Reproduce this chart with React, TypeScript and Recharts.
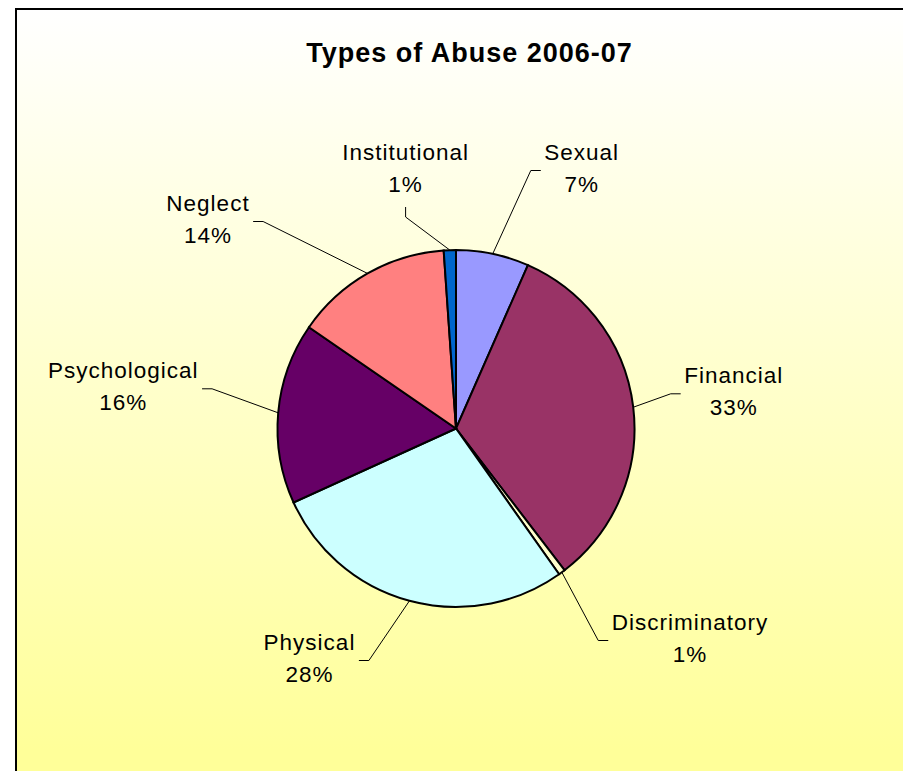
import React from 'react';
import { PieChart, Pie, Cell } from 'recharts';

const categories = ['Sexual', 'Financial', 'Discriminatory', 'Physical', 'Psychological', 'Neglect', 'Institutional'];
const values = [6.6, 33.0, 0.6, 28.0, 16.4, 14.3, 1.1];
const colors = ['#9999FF', '#993366', '#FFFFCC', '#CCFFFF', '#660066', '#FF8080', '#0066CC'];
const title = 'Types of Abuse 2006-07';

// label block placement: offset of the block centre (x) and first baseline (y) from the pie centre
const labelOffsets: [number, number][] = [
  [125.7, -268.5],
  [277.7, -45.2],
  [234, 201.5],
  [-146.5, 221.5],
  [-332.7, -50.2],
  [-248, -217.5],
  [-50.4, -268.5],
];

const data = categories.map((name, i) => ({ name, value: values[i] }));

const FONT = '"Liberation Sans", Arial, Helvetica, sans-serif';
const FS = 22.5;
const LS = 1;
const LINE_H = 32;

const CW: Record<string, number> = {
  I: 0.278, S: 0.667, F: 0.611, D: 0.722, P: 0.667, N: 0.722,
  a: 0.556, b: 0.556, c: 0.5, d: 0.556, e: 0.556, f: 0.278, g: 0.556, h: 0.556, i: 0.222,
  j: 0.222, k: 0.5, l: 0.222, m: 0.833, n: 0.556, o: 0.556, p: 0.556, q: 0.556, r: 0.333,
  s: 0.5, t: 0.278, u: 0.556, v: 0.5, w: 0.722, x: 0.5, y: 0.5, z: 0.5, '%': 0.889,
};

function textWidth(s: string) {
  let w = 0;
  for (const ch of s) w += CW[ch] ?? 0.556;
  return w * FS + (s.length - 1) * LS;
}

const renderLabel = (props: any) => {
  const { cx, cy, midAngle, outerRadius, percent, name, index } = props;
  const RAD = Math.PI / 180;
  const ex = cx + outerRadius * Math.cos(-midAngle * RAD);
  const ey = cy + outerRadius * Math.sin(-midAngle * RAD);
  const [ox, oy] = labelOffsets[index];
  const lx = cx + ox;
  const ly = cy + oy;
  const pct = `${Math.round(percent * 100)}%`;
  const w = Math.max(textWidth(name), textWidth(pct));
  let pts: number[][];
  if (Math.abs(lx - ex) < w / 2) {
    const sy = ly + LINE_H + 15;
    pts = [[ex, ey], [lx, sy + 10], [lx, sy]];
  } else if (lx > ex) {
    const sx = lx - w / 2 - 4;
    const sy = ly + 10.5;
    pts = [[ex, ey], [sx - 10, sy], [sx, sy]];
  } else {
    const sx = lx + w / 2 + 4;
    const sy = ly + 10.5;
    pts = [[ex, ey], [sx + 10, sy], [sx, sy]];
  }
  return (
    <g>
      <polyline points={pts.map((p) => p.join(',')).join(' ')} fill="none" stroke="#000" strokeWidth={1} />
      <text x={lx} y={ly} textAnchor="middle" fontFamily={FONT} fontSize={FS} letterSpacing={LS} fill="#000">
        {name}
      </text>
      <text x={lx} y={ly + LINE_H} textAnchor="middle" fontFamily={FONT} fontSize={FS} letterSpacing={LS} fill="#000">
        {pct}
      </text>
    </g>
  );
};

export default function App() {
  return (
    <div style={{ position: 'absolute', left: 0, top: 0, width: 903, height: 771, overflow: 'hidden' }}>
      <div
        style={{
          position: 'absolute',
          left: 15,
          top: 8,
          width: 900,
          height: 800,
          borderLeft: '2px solid #000',
          borderTop: '2px solid #000',
          background: 'linear-gradient(to bottom, #FFFFFF 0px, #FFFF99 740px)',
        }}
      />
      <div style={{ position: 'absolute', left: 0, top: 0 }}>
        <PieChart width={903} height={771} margin={{ top: 0, right: 0, bottom: 0, left: 0 }}>
          <text
            x={469.5}
            y={62}
            textAnchor="middle"
            fontFamily={FONT}
            fontSize={27}
            fontWeight="bold"
            letterSpacing={1}
            fill="#000"
          >
            {title}
          </text>
          <Pie
            data={data}
            dataKey="value"
            nameKey="name"
            cx={456}
            cy={428.5}
            outerRadius={178.5}
            startAngle={90}
            endAngle={-270}
            stroke="#000"
            strokeWidth={2}
            label={renderLabel}
            labelLine={false}
            isAnimationActive={false}
          >
            {data.map((d, i) => (
              <Cell key={d.name} fill={colors[i]} />
            ))}
          </Pie>
        </PieChart>
      </div>
    </div>
  );
}
